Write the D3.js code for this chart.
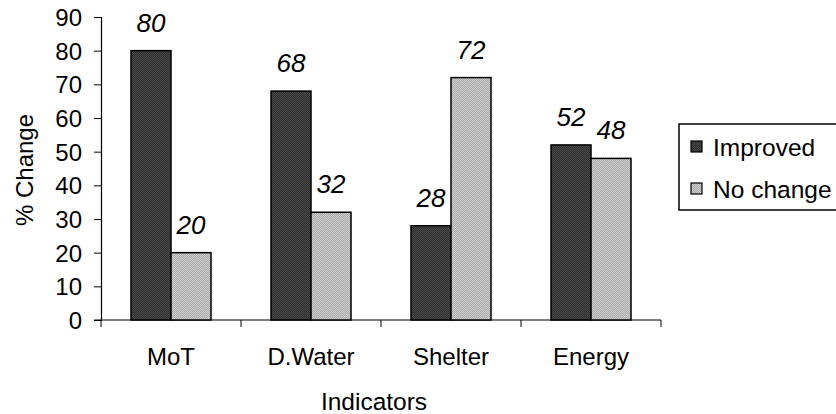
<!DOCTYPE html>
<html>
<head>
<meta charset="utf-8">
<script src="https://cdn.jsdelivr.net/npm/d3@7"></script>
<style>
  body { margin: 0; background: #fff; }
  text { font-family: "Liberation Sans", Arial, sans-serif; fill: #000; }
</style>
</head>
<body>
<div id="chart"></div>
<script>
// data
const categories = ["MoT", "D.Water", "Shelter", "Energy"];
const seriesNames = ["Improved", "No change"];
const improved = [80, 68, 28, 52];
const noChange = [20, 32, 72, 48];
const yTicks = [0, 10, 20, 30, 40, 50, 60, 70, 80, 90];

const W = 836, H = 414;
const margin = { top: 17, right: 175, bottom: 94, left: 101 };

const svg = d3.select("#chart").append("svg")
    .attr("width", W)
    .attr("height", H);

//Patterns for the two series
const defs = svg.append("defs");
function addPattern(id, base, dot) {
    let p = defs.append("pattern")
        .attr("id", id)
        .attr("width", 2).attr("height", 2)
        .attr("patternUnits", "userSpaceOnUse");
    p.append("rect").attr("width", 2).attr("height", 2).attr("fill", base);
    p.append("rect").attr("width", 1).attr("height", 1).attr("fill", dot);
    p.append("rect").attr("x", 1).attr("y", 1).attr("width", 1).attr("height", 1).attr("fill", dot);
}
addPattern("patImp", "#4a4a4a", "#2e2e2e");
addPattern("patNo", "#cfcfcf", "#a9a9a9");
const fills = ["url(#patImp)", "url(#patNo)"];

const x0 = d3.scaleBand()
    .domain(categories)
    .range([margin.left, W - margin.right])
    .padding(0);

const x1 = d3.scaleBand()
    .domain(seriesNames)
    .range([0, x0.bandwidth()])
    .paddingInner(0)
    .paddingOuter(0.75);

const y = d3.scaleLinear()
    .domain([0, 90])
    .range([H - margin.bottom, margin.top]);

//Axes
const yAxis = svg.append("g")
    .attr("transform", `translate(${margin.left},0)`)
    .call(d3.axisLeft(y).tickValues(yTicks).tickSize(7).tickPadding(12));
yAxis.select(".domain").attr("stroke", "#000").attr("stroke-width", 1.2);
yAxis.selectAll("text").style("font-size", "24px").attr("dy", "0.35em");

const xAxis = svg.append("g")
    .attr("transform", `translate(0,${y(0)})`);
xAxis.append("line")
    .attr("x1", margin.left - 7).attr("x2", W - margin.right)
    .attr("stroke", "#000").attr("stroke-width", 1.2);
xAxis.selectAll(".xt")
    .data(categories.concat(["end"]))
    .join("line")
    .attr("class", "xt")
    .attr("x1", (d, i) => margin.left + i * x0.step())
    .attr("x2", (d, i) => margin.left + i * x0.step())
    .attr("y1", 0).attr("y2", 7)
    .attr("stroke", "#000");
xAxis.selectAll(".xl")
    .data(categories)
    .join("text")
    .attr("class", "xl")
    .attr("x", d => x0(d) + x0.bandwidth() / 2)
    .attr("y", 45)
    .attr("text-anchor", "middle")
    .style("font-size", "24px")
    .text(d => d);

//Axis titles
svg.append("text")
    .attr("x", 374)
    .attr("y", 410)
    .attr("text-anchor", "middle")
    .style("font-size", "24.5px")
    .text("Indicators");

svg.append("text")
    .attr("transform", `translate(33,170) rotate(-90)`)
    .attr("text-anchor", "middle")
    .style("font-size", "24px")
    .text("% Change");

//Bars
const rows = categories.map((c, i) => ({ cat: c, vals: [improved[i], noChange[i]] }));

const groups = svg.selectAll(".grp")
    .data(rows)
    .join("g")
    .attr("class", "grp")
    .attr("transform", d => `translate(${x0(d.cat)},0)`);

groups.selectAll("rect")
    .data(d => d.vals.map((v, j) => ({ s: seriesNames[j], v: v, j: j })))
    .join("rect")
    .attr("x", d => x1(d.s))
    .attr("y", d => y(d.v))
    .attr("width", x1.bandwidth())
    .attr("height", d => y(0) - y(d.v))
    .attr("fill", d => fills[d.j])
    .attr("stroke", "#000")
    .attr("stroke-width", 1.5);

groups.selectAll(".lbl")
    .data(d => d.vals.map((v, j) => ({ s: seriesNames[j], v: v })))
    .join("text")
    .attr("class", "lbl")
    .attr("x", d => x1(d.s) + x1.bandwidth() / 2)
    .attr("y", d => y(d.v) - 19)
    .attr("text-anchor", "middle")
    .style("font-size", "26px")
    .style("font-style", "italic")
    .text(d => d.v);

//Legend
const legend = svg.append("g").attr("transform", "translate(679,124)");
legend.append("rect")
    .attr("width", 170).attr("height", 86)
    .attr("fill", "#fff")
    .attr("stroke", "#000")
    .attr("stroke-width", 1.5);
seriesNames.forEach((s, i) => {
    let gy = 22 + i * 42;
    legend.append("rect")
        .attr("x", 12).attr("y", gy - 5)
        .attr("width", 11).attr("height", 11)
        .attr("fill", fills[i])
        .attr("stroke", "#000")
        .attr("stroke-width", 1.2);
    legend.append("text")
        .attr("x", 34).attr("y", gy + 10)
        .style("font-size", "24.5px")
        .text(s);
});
</script>
</body>
</html>
